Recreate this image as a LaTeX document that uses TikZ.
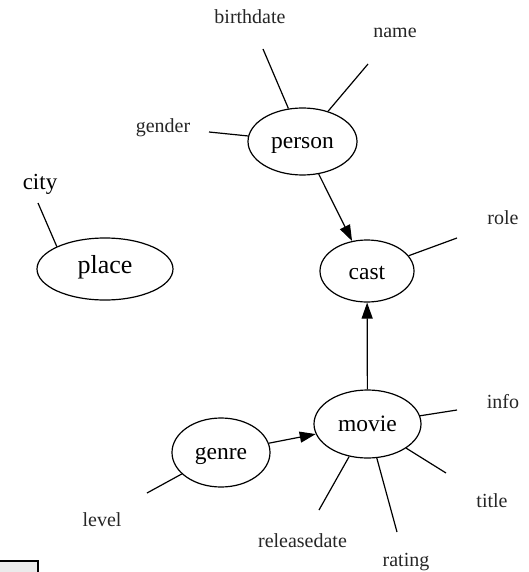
\documentclass[tikz,border=0pt]{standalone}
\usepackage{fontspec}
\setmainfont{Liberation Serif}
\usetikzlibrary{shapes.geometric,arrows.meta}
\begin{document}
\begin{tikzpicture}[x=1pt,y=-1pt,
  ent/.style={ellipse,draw,line width=1.2pt,inner sep=0pt,font=\fontsize{23.5}{23.5}\selectfont,text height=18pt,text depth=3pt},
  attr/.style={anchor=base,inner sep=0pt,font=\fontsize{20}{20}\selectfont,text=black!85},
  edge/.style={line width=1.2pt},
  rel/.style={line width=1.2pt,-{Triangle[length=16pt,width=11pt]}}]
\useasboundingbox (0,0) rectangle (529,572);
\clip (0,0) rectangle (529,572);
% entities
\node[ent,minimum width=109pt,minimum height=67pt] (person) at (302.5,141.5) {person};
\node[ent,minimum width=94pt,minimum height=62pt,text height=19pt,text depth=2pt] (cast) at (367,271) {cast};
\node[ent,minimum width=107pt,minimum height=68pt] (movie) at (367.5,424) {movie};
\node[ent,minimum width=98pt,minimum height=69pt,text height=17pt,text depth=4pt] (genre) at (221,452.5) {genre};
\node[ent,minimum width=136pt,minimum height=62pt,font=\fontsize{26}{26}\selectfont,text height=14pt,text depth=6pt] (place) at (105,269) {place};
% attribute labels
\node[attr] (lbd) at (250,23.3) {birthdate};
\node[attr] (lnm) at (395,38) {name};
\node[attr] (lgd) at (163,133) {gender};
\node[attr,font=\fontsize{23}{23}\selectfont,text=black] (lct) at (40,189) {city};
\node[attr] (lrl) at (503,224) {role};
\node[attr] (linf) at (503,408) {info};
\node[attr] (ltt) at (492,507) {title};
\node[attr] (lrt) at (406,566.5) {rating};
\node[attr] (lrd) at (302.5,547) {releasedate};
\node[attr] (llv) at (102,526) {level};
% free ends of attribute lines
\coordinate (bd) at (263,49);
\coordinate (nm) at (368,64);
\coordinate (gd) at (209,132);
\coordinate (ct) at (38,203);
\coordinate (rl) at (457,238);
\coordinate (inf) at (457,410);
\coordinate (tt) at (446,473);
\coordinate (rt) at (397,532);
\coordinate (rd) at (319,510);
\coordinate (lv) at (147,493);
% attribute lines
\draw[edge] (person) -- (bd);
\draw[edge] (person) -- (nm);
\draw[edge] (person) -- (gd);
\draw[edge] (place.155) -- (ct);
\draw[edge] (cast) -- (rl);
\draw[edge] (movie) -- (inf);
\draw[edge] (movie) -- (tt);
\draw[edge] (movie) -- (rt);
\draw[edge] (movie) -- (rd);
\draw[edge] (genre) -- (lv);
% relationships
\draw[rel] (person) -- (cast);
\draw[rel] (movie) -- (cast);
\draw[rel] (genre) -- (movie);
% partial box at bottom left
\draw[line width=2pt,fill=black!8] (-5,560.5) rectangle (37.5,580);
\end{tikzpicture}
\end{document}
